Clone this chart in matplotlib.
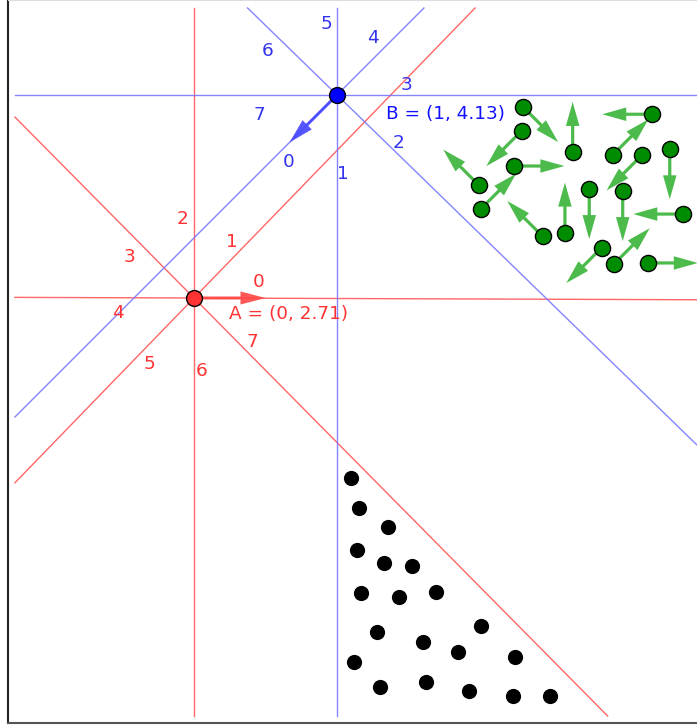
import numpy as np
import matplotlib
matplotlib.use("Agg")
import matplotlib.pyplot as plt

# ---------------- data ----------------
point_names = ["A", "B"]
point_x = [0.0, 1.0]
point_y = [2.71, 4.13]
point_labels = ["A = (0, 2.71)", "B = (1, 4.13)"]
# orientation of the four lines through each point (degrees)
line_angles_A = [-0.2, 45.9, 90.0, 134.7]
line_angles_B = [0.0, 45.0, 90.0, 135.8]
# direction of the frame arrow (label "0") of each point (degrees)
arrow_angle_A = 0.0
arrow_angle_B = 225.0
ray_labels = ["0", "1", "2", "3", "4", "5", "6", "7"]

green_x = [2.299, 2.292, 2.648, 3.205, 2.930, 3.133, 3.327, 2.240, 1.991,
           2.005, 2.438, 2.594, 2.764, 2.998, 3.422, 2.851, 2.939, 3.173]
green_y = [4.048, 3.880, 3.731, 3.995, 3.712, 3.710, 3.750, 3.633, 3.500,
           3.332, 3.141, 3.167, 3.472, 3.458, 3.297, 3.062, 2.950, 2.955]
# direction index: 0=E, 1=NE, 2=N, 3=NW, 4=W, 5=SW, 6=S, 7=SE
green_dir = [7, 5, 2, 4, 1, 5, 6, 0, 3, 1, 3, 2, 6, 6, 4, 5, 1, 0]

black_x = [1.096, 1.154, 1.359, 1.140, 1.329, 1.527, 1.168, 1.431, 1.694, 1.278,
           2.007, 1.599, 1.848, 2.243, 1.117, 1.303, 1.620, 1.921, 2.233, 2.490]
black_y = [1.453, 1.241, 1.111, 0.946, 0.857, 0.836, 0.649, 0.617, 0.652, 0.376,
           0.414, 0.302, 0.237, 0.200, 0.165, -0.010, 0.025, -0.038, -0.075, -0.071]

# ---------------- layout / style ----------------
W, H, DPI = 697, 726, 100
PPU = 143.0  # pixels per data unit
fig = plt.figure(figsize=(W / DPI, H / DPI), dpi=DPI)
left_px, bottom_px, right_px, top_px = 8, 723, 720, 0
ax = fig.add_axes([left_px / W, (H - bottom_px) / H,
                   (right_px - left_px) / W, (bottom_px - top_px) / H])
x0 = -(194 - left_px) / PPU
x1 = (right_px - 194) / PPU
y0 = 2.71 - (bottom_px - 298) / PPU
y1 = 2.71 + (298 - top_px) / PPU
ax.set_xlim(x0, x1)
ax.set_ylim(y0, y1)
ax.set_xticks([])
ax.set_yticks([])
ax.spines["right"].set_visible(False)
ax.spines["top"].set_color("#dddddd")
ax.spines["left"].set_color("#222222")
ax.spines["left"].set_linewidth(1.5)
ax.spines["bottom"].set_color("#555555")
ax.spines["bottom"].set_linewidth(1.5)

# clipping box for the construction lines
bx0, bx1 = -1.252, 10.0
by0, by1 = -0.213, 4.738


def clip_line(px, py, ang):
    dx, dy = np.cos(np.radians(ang)), np.sin(np.radians(ang))
    tmin, tmax = -1e9, 1e9
    for p, d, lo, hi in ((px, dx, bx0, bx1), (py, dy, by0, by1)):
        if abs(d) < 1e-12:
            continue
        ta, tb = (lo - p) / d, (hi - p) / d
        tmin = max(tmin, min(ta, tb))
        tmax = min(tmax, max(ta, tb))
    return [px + tmin * dx, px + tmax * dx], [py + tmin * dy, py + tmax * dy]


line_cols = ["#ff5555", "#7777ff"]
text_cols = ["#ff3333", "#3333ee"]
pt_cols = ["#ff3333", "#0000ff"]
arrow_cols = ["#ff4444", "#4444ff"]
label_text_cols = ["#ff3333", "#1111ff"]
angle_sets = [line_angles_A, line_angles_B]
arrow_angles = [arrow_angle_A, arrow_angle_B]

# label offsets in pixels (screen x right, y up)
label_offsets = [
    [(65, 16), (38, 56), (-11, 79), (-64, 41), (-76, -15), (-45, -66), (8, -73), (58, -44)],
    [(-48, -67), (6, -79), (62, -48), (69, 10), (36, 57), (-11, 71), (-69, 44), (-78, -20)],
]
name_offsets = [(35, -16), (49, -19)]
FS = 13.3

for i in range(2):
    px, py = point_x[i], point_y[i]
    for ang in angle_sets[i]:
        xs, ys = clip_line(px, py, ang)
        ax.plot(xs, ys, color=line_cols[i], lw=1.0, alpha=0.9, zorder=1)
    # frame arrow
    a = np.radians(arrow_angles[i])
    L = 0.5 if i == 0 else 0.47
    ax.arrow(px, py, L * np.cos(a), L * np.sin(a), width=3 / PPU,
             head_width=13 / PPU, head_length=25 / PPU, length_includes_head=True,
             color=arrow_cols[i], alpha=0.9, lw=0, zorder=3)
    for k, lab in enumerate(ray_labels):
        ox, oy = label_offsets[i][k]
        ax.annotate(lab, (px, py), xytext=(ox, oy), textcoords="offset pixels",
                    ha="center", va="center", fontsize=FS, color=text_cols[i])
    ax.annotate(point_labels[i], (px, py), xytext=name_offsets[i],
                textcoords="offset pixels", ha="left", va="center",
                fontsize=FS, color=label_text_cols[i])
    ax.scatter([px], [py], s=130, color=pt_cols[i], edgecolor="black",
               linewidth=1.0, zorder=5)

# green points with direction arrows
GL = 0.35
for gx, gy, d in zip(green_x, green_y, green_dir):
    a = np.radians(45 * d)
    ax.arrow(gx, gy, GL * np.cos(a), GL * np.sin(a), width=3.2 / PPU,
             head_width=13.5 / PPU, head_length=24 / PPU, length_includes_head=True,
             color="#4cbb4c", lw=0, zorder=3)
ax.scatter(green_x, green_y, s=135, color="#008c00", edgecolor="black",
           linewidth=1.0, zorder=4)

# black points
ax.scatter(black_x, black_y, s=120, color="black", linewidth=0, zorder=4)

fig.savefig("out.png", dpi=DPI)
